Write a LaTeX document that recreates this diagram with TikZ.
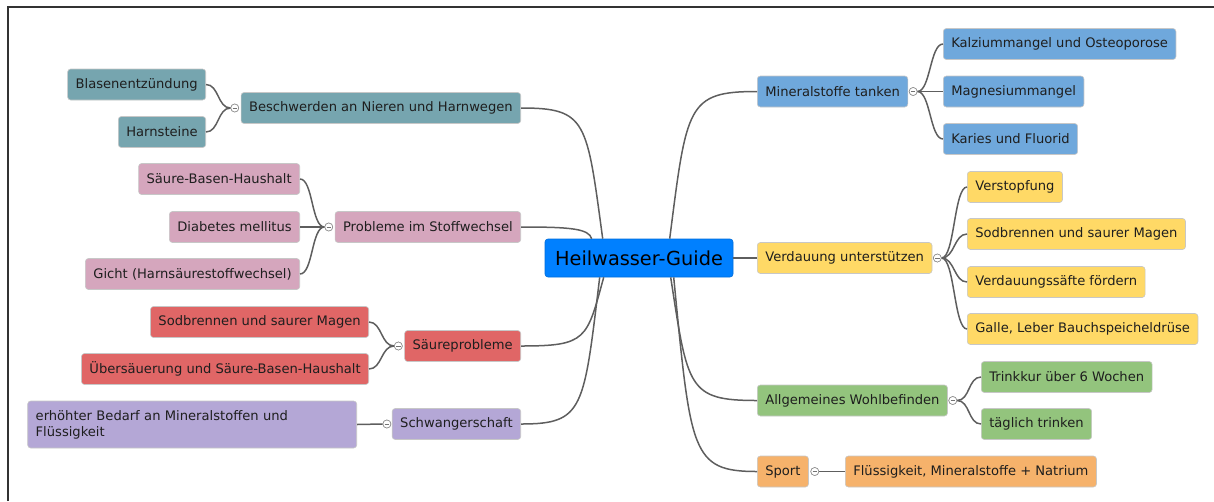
\documentclass[tikz,border=0pt]{standalone}
\usepackage{fontspec}
\setmainfont{DejaVu Sans}
\usetikzlibrary{calc}
\definecolor{cteal}{HTML}{76A5AF}
\definecolor{cpink}{HTML}{D5A6BD}
\definecolor{cred}{HTML}{E06666}
\definecolor{cpurple}{HTML}{B4A7D6}
\definecolor{cblueb}{HTML}{6FA8DC}
\definecolor{cyellow}{HTML}{FFD966}
\definecolor{cgreen}{HTML}{93C47D}
\definecolor{corange}{HTML}{F6B26B}
\definecolor{ccentral}{HTML}{0080FF}
\definecolor{ctext}{HTML}{1E1E1E}
\definecolor{clink}{HTML}{5E5E5E}
\begin{document}
\begin{tikzpicture}[x=1pt,y=-1pt,
  box/.style={rounded corners=3pt, draw=black!22, line width=0.6pt, minimum height=31pt,
    inner xsep=8pt, inner ysep=2pt, text=ctext, font=\fontsize{13.1}{15.5}\selectfont},
  tog/.style={circle, draw=black!45, fill=white, line width=0.6pt, minimum size=8pt, inner sep=0pt,
    path picture={\draw[black!55, line width=0.6pt] ([xshift=-2.2pt]path picture bounding box.center) -- ([xshift=2.2pt]path picture bounding box.center);}},
  link/.style={draw=clink, line width=1.5pt}
]
\useasboundingbox (0,0) rectangle (1214,501);
\draw[line width=1.4pt, black!80] (8,501) -- (8,7) -- (1214,7);

% central
\node[box, fill=ccentral, draw=ccentral!85!black, minimum width=188pt, minimum height=38pt,
  font=\fontsize{19.3}{22}\selectfont, text=black] (C) at (639,258) {Heilwasser-Guide};

% right side main branches
\node[box, fill=cblueb, anchor=west] (MT) at (757,91.5) {Mineralstoffe tanken};
\node[box, fill=cyellow, anchor=west] (VU) at (757,258) {Verdauung unterstützen};
\node[box, fill=cgreen, anchor=west] (AW) at (757,400.5) {Allgemeines Wohlbefinden};
\node[box, fill=corange, anchor=west] (SP) at (757,471.5) {Sport};

% right children
\node[box, fill=cblueb, anchor=west] (K1) at (943,44) {Kalziummangel und Osteoporose};
\node[box, fill=cblueb, anchor=west] (K2) at (943,91.5) {Magnesiummangel};
\node[box, fill=cblueb, anchor=west] (K3) at (943,139) {Karies und Fluorid};
\node[box, fill=cyellow, anchor=west] (V1) at (967,187) {Verstopfung};
\node[box, fill=cyellow, anchor=west] (V2) at (967,234) {Sodbrennen und saurer Magen};
\node[box, fill=cyellow, anchor=west] (V3) at (967,282) {Verdauungssäfte fördern};
\node[box, fill=cyellow, anchor=west] (V4) at (967,329) {Galle, Leber Bauchspeicheldrüse};
\node[box, fill=cgreen, anchor=west] (A1) at (981,377) {Trinkkur über 6 Wochen};
\node[box, fill=cgreen, anchor=west] (A2) at (981,424) {täglich trinken};
\node[box, fill=corange, anchor=west] (S1) at (845,471.5) {Flüssigkeit, Mineralstoffe + Natrium};

% left side main branches
\node[box, fill=cteal, anchor=east] (BN) at (521,108) {Beschwerden an Nieren und Harnwegen};
\node[box, fill=cpink, anchor=east] (PS) at (521,227) {Probleme im Stoffwechsel};
\node[box, fill=cred, anchor=east] (SR) at (521,346) {Säureprobleme};
\node[box, fill=cpurple, anchor=east] (SW) at (521,424) {Schwangerschaft};

% left children
\node[box, fill=cteal, anchor=east] (B1) at (206,84.5) {Blasenentzündung};
\node[box, fill=cteal, anchor=east] (B2) at (206,132) {Harnsteine};
\node[box, fill=cpink, anchor=east] (P1) at (300,179) {Säure-Basen-Haushalt};
\node[box, fill=cpink, anchor=east] (P2) at (300,227) {Diabetes mellitus};
\node[box, fill=cpink, anchor=east] (P3) at (300,274) {Gicht (Harnsäurestoffwechsel)};
\node[box, fill=cred, anchor=east] (R1) at (369,322) {Sodbrennen und saurer Magen};
\node[box, fill=cred, anchor=east] (R2) at (369,369) {Übersäuerung und Säure-Basen-Haushalt};
\node[box, fill=cpurple, anchor=east, text width=313pt, align=left, minimum height=47pt,
  font=\fontsize{13.1}{16}\selectfont] (W1) at (357,424.5) {erhöhter Bedarf an Mineralstoffen und\\Flüssigkeit};

% toggles
\node[tog] (tMT) at ($(MT.east)+(5,0)$) {};
\node[tog] (tVU) at ($(VU.east)+(5,0)$) {};
\node[tog] (tAW) at ($(AW.east)+(5,0)$) {};
\node[tog] (tSP) at ($(SP.east)+(6,0)$) {};
\node[tog] (tBN) at ($(BN.west)+(-6,0)$) {};
\node[tog] (tPS) at ($(PS.west)+(-6,0)$) {};
\node[tog] (tSR) at ($(SR.west)+(-6,0)$) {};
\node[tog] (tSW) at ($(SW.west)+(-5,0)$) {};

% central anchor points
\coordinate (cMT) at ($(C.north west)+(125,0)$);
\coordinate (cBN) at ($(C.north west)+(58,0)$);
\coordinate (cPS) at ($(C.north west)+(47,0)$);
\coordinate (cSR) at ($(C.south west)+(59,0)$);
\coordinate (cSW) at ($(C.south west)+(55,0)$);
\coordinate (cAW) at ($(C.south west)+(126,0)$);
\coordinate (cSP) at ($(C.south west)+(129,0)$);

% central connectors
\draw[link] (cMT) .. controls +(17,-133) and +(-70,0) .. (MT.west);
\draw[link] (cBN) .. controls +(-16,-118) and +(66,0) .. (BN.east);
\draw[link] (cPS) .. controls +(-3,-10) and +(50,0) .. (PS.east);
\draw[link] (C.east) -- (VU.west);
\draw[link] (cSR) .. controls +(-17,62) and +(66,0) .. (SR.east);
\draw[link] (cSW) .. controls +(-16,132) and +(63,0) .. (SW.east);
\draw[link] (cAW) .. controls +(17,111) and +(-69,0) .. (AW.west);
\draw[link] (cSP) .. controls +(17,175) and +(-66,0) .. (SP.west);

% child connectors right
\foreach \c in {K1,K2,K3} \draw[link] (tMT.east) .. controls +(13,0) and +(-13,0) .. (\c.west);
\foreach \c in {V1,V2,V3,V4} \draw[link] (tVU.east) .. controls +(13,0) and +(-13,0) .. (\c.west);
\foreach \c in {A1,A2} \draw[link] (tAW.east) .. controls +(13,0) and +(-13,0) .. (\c.west);
\draw[link] (tSP.east) -- (S1.west);

% child connectors left
\foreach \c in {B1,B2} \draw[link] (tBN.west) .. controls +(-13,0) and +(13,0) .. (\c.east);
\foreach \c in {P1,P2,P3} \draw[link] (tPS.west) .. controls +(-13,0) and +(13,0) .. (\c.east);
\foreach \c in {R1,R2} \draw[link] (tSR.west) .. controls +(-13,0) and +(13,0) .. (\c.east);
\draw[link] (tSW.west) -- (W1.east);

% redraw toggles on top
\foreach \t in {tMT,tVU,tAW,tSP,tBN,tPS,tSR,tSW}
  \node[tog] at (\t) {};
\end{tikzpicture}
\end{document}
